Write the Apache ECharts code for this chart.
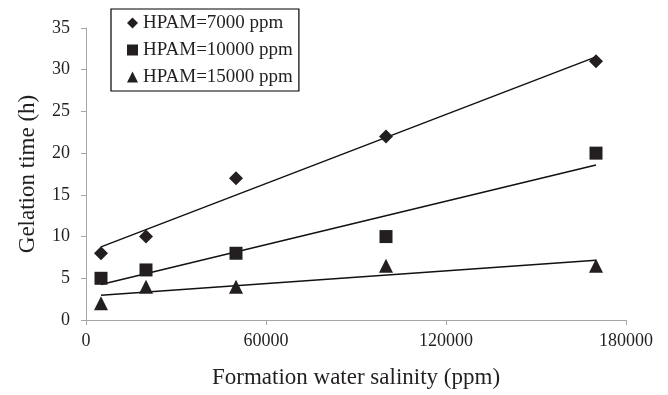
<!DOCTYPE html>
<html>
<head>
<meta charset="utf-8">
<script src="https://cdn.jsdelivr.net/npm/echarts@6/dist/echarts.min.js"></script>
<style>
html,body{margin:0;padding:0;background:#fff;}
#c{width:668px;height:395px;}
</style>
</head>
<body>
<div id="c"></div>
<script>
// Data
var salinity = [5000, 20000, 50000, 100000, 170000];
var hpam7000 = [8, 10, 17, 22, 31];
var hpam10000 = [5, 6, 8, 10, 20];
var hpam15000 = [2, 4, 4, 6.5, 6.5];
// Linear trendline endpoints (x = 5000 and 170000)
var trendX = [5000, 170000];
var trend7000 = [8.76, 31.54];
var trend10000 = [4.25, 18.57];
var trend15000 = [2.97, 7.17];
var seriesNames = ['HPAM=7000 ppm', 'HPAM=10000 ppm', 'HPAM=15000 ppm'];
var xTitle = 'Formation water salinity (ppm)';
var yTitle = 'Gelation time (h)';

var font = '"Liberation Serif", "Times New Roman", serif';
var ink = '#231f20';

function pairs(xs, ys) { return xs.map(function (x, i) { return [x, ys[i]]; }); }

var chart = echarts.init(document.getElementById('c'));
chart.setOption({
  animation: false,
  backgroundColor: '#fff',
  grid: { left: 86, right: 42, top: 28, bottom: 75 },
  legend: {
    data: seriesNames.map(function (n, i) {
      return { name: n, icon: ['diamond', 'rect', 'triangle'][i] };
    }),
    orient: 'vertical',
    left: 111,
    top: 9,
    padding: [4, 6, 4, 16],
    itemGap: 7,
    itemWidth: 11,
    itemHeight: 11,
    borderColor: '#000',
    borderWidth: 1.2,
    borderRadius: 0,
    textStyle: { fontFamily: font, fontSize: 19, color: ink, lineHeight: 20 }
  },
  xAxis: {
    type: 'value',
    min: 0, max: 180000, interval: 60000,
    name: xTitle,
    nameLocation: 'middle',
    nameGap: 46,
    nameTextStyle: { fontFamily: font, fontSize: 23, color: ink },
    axisLine: { show: true, lineStyle: { color: '#a6a6a6', width: 1 } },
    axisTick: { show: true, length: 5, lineStyle: { color: '#a6a6a6' } },
    splitLine: { show: false },
    axisLabel: { fontFamily: font, fontSize: 18, color: ink, margin: 12,
      formatter: function (v) { return String(v); } }
  },
  yAxis: {
    type: 'value',
    min: 0, max: 35, interval: 5,
    name: yTitle,
    nameLocation: 'middle',
    nameGap: 47,
    nameTextStyle: { fontFamily: font, fontSize: 23, color: ink },
    axisLine: { show: true, lineStyle: { color: '#a6a6a6', width: 1 } },
    axisTick: { show: true, length: 5, lineStyle: { color: '#a6a6a6' } },
    splitLine: { show: false },
    axisLabel: { fontFamily: font, fontSize: 18, color: ink, margin: 16 }
  },
  series: [
    { name: seriesNames[0], type: 'scatter', symbol: 'diamond', symbolSize: 14,
      itemStyle: { color: ink, opacity: 1 }, data: pairs(salinity, hpam7000), z: 3 },
    { name: seriesNames[1], type: 'scatter', symbol: 'rect', symbolSize: 13,
      itemStyle: { color: ink, opacity: 1 }, data: pairs(salinity, hpam10000), z: 3 },
    { name: seriesNames[2], type: 'scatter', symbol: 'triangle', symbolSize: 14,
      itemStyle: { color: ink, opacity: 1 }, data: pairs(salinity, hpam15000), z: 3 },
    { name: 't1', type: 'line', showSymbol: false, symbol: 'none', silent: true,
      lineStyle: { color: '#111', width: 1.5 }, data: pairs(trendX, trend7000), z: 2 },
    { name: 't2', type: 'line', showSymbol: false, symbol: 'none', silent: true,
      lineStyle: { color: '#111', width: 1.5 }, data: pairs(trendX, trend10000), z: 2 },
    { name: 't3', type: 'line', showSymbol: false, symbol: 'none', silent: true,
      lineStyle: { color: '#111', width: 1.5 }, data: pairs(trendX, trend15000), z: 2 }
  ]
});
</script>
</body>
</html>
